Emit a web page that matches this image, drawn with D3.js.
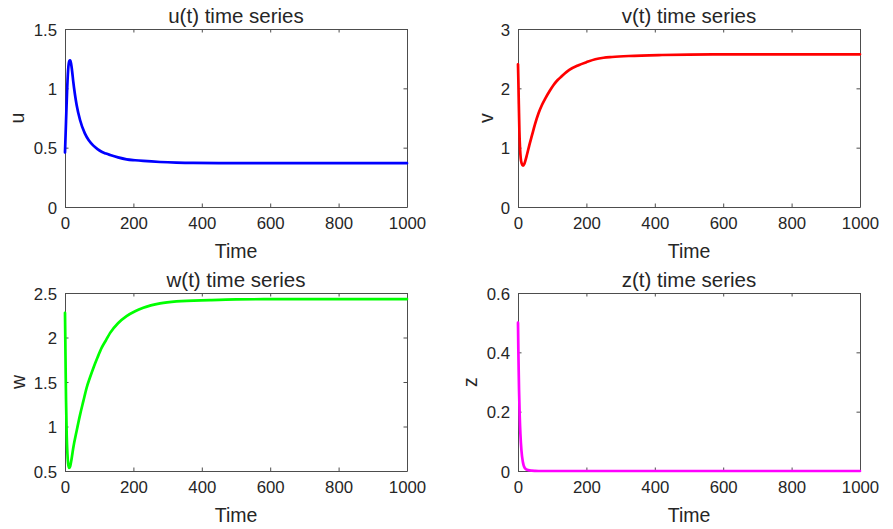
<!DOCTYPE html>
<html><head><meta charset="utf-8">
<script src="https://cdn.jsdelivr.net/npm/d3@7"></script>
<style>body{margin:0;background:#fff}svg{display:block}text{font-family:"Liberation Sans",Arial,Helvetica,sans-serif;fill:#262626}</style>
</head><body><svg id="c" width="893" height="529"></svg>
<script>
// ---- data ----
const uTime = [0,3,6,9,11,13,14.5,16,18,21,24,29,34,44,58,70,83,95,107,120,132,155,180,205,229,278,326,375,450,550,650,750,850,1000];
const uVals = [0.46,0.72,0.97,1.15,1.21,1.232,1.235,1.23,1.205,1.14,1.06,0.95,0.86,0.733,0.62,0.56,0.517,0.488,0.466,0.45,0.438,0.418,0.402,0.394,0.388,0.379,0.374,0.372,0.370,0.369,0.369,0.369,0.369,0.369];

const vTime = [0,1,2,4,6,8,11,14.5,18,22,26,33,41,50,60,70,80,92,104,116,129,150,177,200,226,250,275,324,421,500,600,700,800,900,1000];
const vVals = [2.405,2.15,1.85,1.3,0.98,0.82,0.73,0.695,0.72,0.79,0.876,1.04,1.21,1.4,1.58,1.72,1.83,1.95,2.056,2.14,2.21,2.31,2.39,2.44,2.49,2.515,2.528,2.545,2.562,2.569,2.572,2.574,2.574,2.574,2.574];

const wTime = [0,1,2,3,5,7,9,12,15,19,24,34,44,54,63,73,83,95,107,120,132,155,180,205,229,278,326,424,500,600,700,800,900,1000];
const wVals = [2.278,1.95,1.6,1.3,0.9,0.7,0.59,0.535,0.55,0.63,0.756,0.95,1.131,1.29,1.432,1.55,1.658,1.775,1.883,1.97,2.052,2.16,2.24,2.295,2.334,2.383,2.405,2.42,2.428,2.431,2.432,2.432,2.432,2.432];

const zTime = [0,1,2,3,5,7,10,14,20,30,40,50,60,100,200,400,600,800,1000];
const zVals = [0.5,0.41,0.34,0.275,0.185,0.125,0.07,0.032,0.01,0.003,0.001,0.0003,0,0,0,0,0,0,0];

const xTicks = [0,200,400,600,800,1000];
const uTicks = [0,0.5,1,1.5];
const vTicks = [0,1,2,3];
const wTicks = [0.5,1,1.5,2,2.5];
const zTicks = [0,0.2,0.4,0.6];

const panels = [
  {title:"u(t) time series", ylab:"u", t:uTime, v:uVals, yd:[0,1.5], yt:uTicks, color:"#0000ff", box:[65,29,407,207], ylx:18},
  {title:"v(t) time series", ylab:"v", t:vTime, v:vVals, yd:[0,3], yt:vTicks, color:"#ff0000", box:[518,29,860,207], ylx:487},
  {title:"w(t) time series", ylab:"w", t:wTime, v:wVals, yd:[0.5,2.5], yt:wTicks, color:"#00ff00", box:[65,293,407,471], ylx:19},
  {title:"z(t) time series", ylab:"z", t:zTime, v:zVals, yd:[0,0.6], yt:zTicks, color:"#ff00ff", box:[518,293,860,471], ylx:471}
];

const svg = d3.select("#c");
const fmt = d => String(d);

panels.forEach(p => {
  const [x0,y0,x1,y1] = p.box;
  const x = d3.scaleLinear().domain([0,1000]).range([x0,x1]);
  const y = d3.scaleLinear().domain(p.yd).range([y1,y0]);
  const g = svg.append("g");

  // axes (ticks inward, box)
  const tl = 3.5;
  const bottom = d3.axisBottom(x).tickValues(xTicks).tickFormat(fmt).tickSizeInner(-tl).tickSizeOuter(0).tickPadding(10);
  const top = d3.axisTop(x).tickValues(xTicks).tickFormat("").tickSizeInner(-tl).tickSizeOuter(0);
  const left = d3.axisLeft(y).tickValues(p.yt).tickFormat(fmt).tickSizeInner(-tl).tickSizeOuter(0).tickPadding(8);
  const right = d3.axisRight(y).tickValues(p.yt).tickFormat("").tickSizeInner(-tl).tickSizeOuter(0);

  const ax = [
    g.append("g").attr("transform",`translate(0,${y1})`).call(bottom),
    g.append("g").attr("transform",`translate(0,${y0})`).call(top),
    g.append("g").attr("transform",`translate(${x0},0)`).call(left),
    g.append("g").attr("transform",`translate(${x1},0)`).call(right)
  ];
  ax.forEach(a=>{
    a.select(".domain").attr("stroke","#4d4d4d").attr("stroke-width",1);
    a.selectAll(".tick line").attr("stroke","#4d4d4d").attr("stroke-width",1);
    a.selectAll("text").attr("font-size","16.8px").attr("fill","#262626").attr("font-family",null);
  });
  ax[0].selectAll("text").attr("dy","0.71em");
  ax[2].selectAll("text").attr("dy","0.36em");

  // line
  const data = p.t.map((t,i)=>[t,p.v[i]]);
  g.append("path").datum(data)
    .attr("fill","none").attr("stroke",p.color).attr("stroke-width",2.7)
    .attr("stroke-linejoin","round").attr("stroke-linecap","round")
    .attr("d", d3.line().x(d=>x(d[0])).y(d=>y(d[1])).curve(d3.curveMonotoneX));

  // title
  g.append("text").attr("x",(x0+x1)/2).attr("y",y0-6.5).attr("text-anchor","middle")
    .attr("font-size","20.5px").text(p.title);
  // x label
  g.append("text").attr("x",(x0+x1)/2).attr("y",y1+51).attr("text-anchor","middle")
    .attr("font-size","19.5px").text("Time");
  // y label
  g.append("text").attr("transform",`translate(${p.ylx+6},${(y0+y1)/2}) rotate(-90)`)
    .attr("text-anchor","middle").attr("font-size","19.5px").text(p.ylab);
});
</script></body></html>
